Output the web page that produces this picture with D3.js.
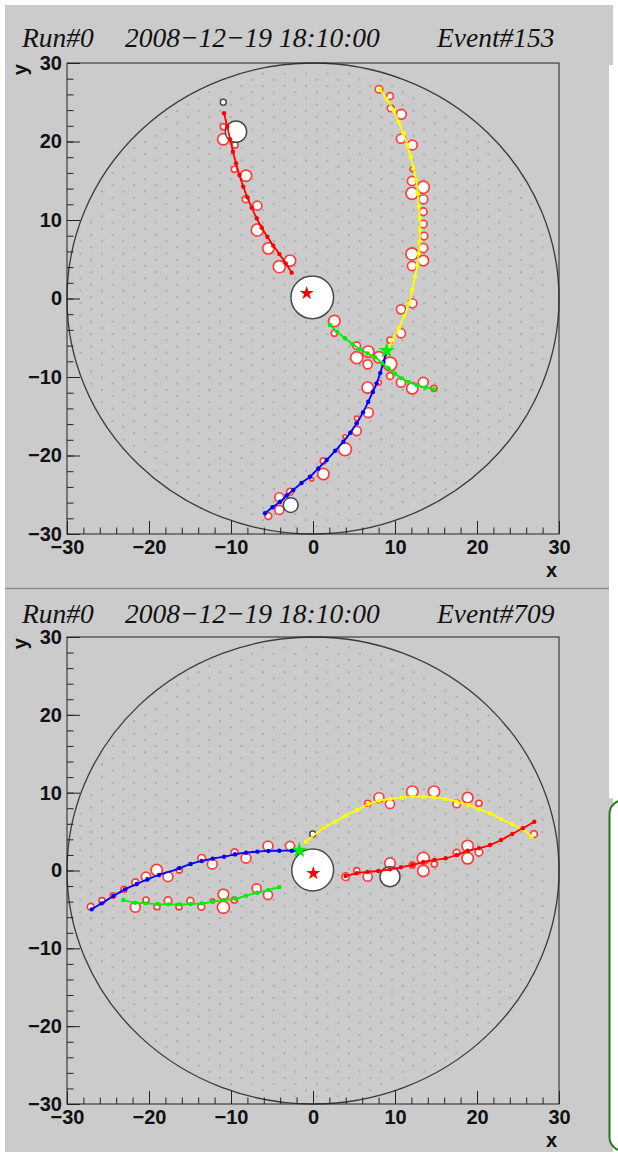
<!DOCTYPE html>
<html>
<head>
<meta charset="utf-8">
<script src="https://cdn.jsdelivr.net/npm/d3@7"></script>
<style>
  html, body { margin: 0; padding: 0; background: #ffffff; }
  svg { display: block; }
</style>
</head>
<body>
<svg id="display" width="618" height="1157"></svg>
<script>
// ---- Event display data (detector coordinates, cm) ----
const axisTicks = [-30, -20, -10, 0, 10, 20, 30];
const minorTicks = d3.range(-30, 31, 2);
const runLabel = "Run#0";
const dateLabel = "2008\u221212\u221219 18:10:00";
const eventIds = [153, 709];
const detectorRadius = 30;
// pad lattice: column pitch, row pitch, origin column
const padPitch = [1.31, 1.58];
const padOrigin = [-24.43, -1.38];

// Event #153
const redTrack153 = [[-10.85,23.59],[-10.45,21.89],[-10.12,20.28],[-9.76,18.70],[-9.39,17.22],[-8.98,15.73],[-8.50,14.24],[-8.01,12.89],[-7.48,11.57],[-6.87,10.22],[-6.26,9.02],[-5.57,7.87],[-4.84,6.73],[-4.11,5.67],[-3.33,4.48],[-2.60,3.29]];
const yellowTrack153 = [[8.17,26.65],[9.0,25.4],[9.80,24.01],[10.45,22.5],[11.02,21.04],[11.5,19.55],[11.91,18.07],[12.26,16.6],[12.56,15.10],[12.78,13.4],[12.93,11.70],[13.02,10.2],[13.05,8.73],[13.0,7.25],[12.9,5.76],[12.72,4.3],[12.45,2.8],[12.1,1.1],[11.7,-0.6],[11.15,-2.2],[10.45,-3.8],[9.7,-5.3],[8.99,-6.65]];
const blueTrack153 = [[-5.85,-27.36],[-4.95,-26.6],[-4.02,-25.89],[-3.2,-25.1],[-2.40,-24.39],[-1.4,-23.5],[-0.37,-22.70],[0.65,-21.65],[1.67,-20.57],[2.7,-19.4],[3.70,-18.24],[4.55,-17.1],[5.33,-15.90],[6.1,-14.5],[6.74,-13.15],[7.3,-11.9],[7.76,-10.81],[8.2,-9.5],[8.6,-8.1],[8.99,-6.77]];
const greenTrack153 = [[2.07,-3.38],[2.95,-4.25],[3.90,-5.07],[4.8,-5.8],[5.73,-6.47],[6.65,-7.0],[7.56,-7.49],[8.4,-8.2],[9.19,-8.89],[10.0,-9.55],[10.81,-10.17],[11.7,-10.65],[12.64,-11.02],[13.7,-11.33],[14.76,-11.57]];
// hits: x, y, charge
const hits153 = [
  [-10.94,21.89,8],[-10.94,20.28,15],[-9.51,19.55,8],[-9.59,16.46,8],[-8.17,15.64,15],[-8.21,12.64,9],
  [-6.79,11.82,12],[-6.79,8.73,16],[-5.45,6.39,15],[-4.11,4.05,16],[-2.80,4.82,15],
  [8.05,26.65,10],[9.39,25.80,9],[9.48,24.23,9],[10.77,23.46,13],[10.73,20.36,12],[12.11,19.55,13],
  [12.11,16.46,6],[12.07,14.97,12],[12.07,13.40,16],[13.45,14.17,16],[13.45,12.64,12],[13.45,11.06,10],
  [13.45,9.49,10],[13.54,7.96,10],[13.45,6.43,12],[12.07,5.67,16],[13.45,4.82,14],[12.07,4.14,12],
  [12.11,-0.61,12],[10.73,-1.38,12],[10.73,-4.43,12],[9.39,-5.29,8],
  [2.60,-2.87,15],[2.60,-4.43,8],[5.33,-6.01,10],[6.74,-6.77,15],[5.33,-7.54,16],[6.67,-8.39,12],
  [8.05,-7.49,15],[9.39,-8.34,18],[9.39,-9.87,9],[10.73,-10.72,12],[12.11,-11.44,15],[13.45,-10.68,13],[14.76,-11.44,8],
  [6.67,-11.36,15],[8.05,-10.72,6],[6.74,-14.54,13],[5.33,-16.88,12],[5.33,-15.27,6],[3.9,-17.6,5],[3.90,-19.21,17],
  [1.26,-20.70,8],[1.26,-22.36,15],[-0.16,-23.03,5],[-2.80,-24.61,9],[-4.11,-25.32,12],[-4.11,-26.94,12],[-5.45,-27.71,9]
];
// clusters: x, y, radius
const clusters153 = [[-10.94,24.99,0.37],[-9.39,21.25,1.3],[-2.72,-26.31,0.9]];
const vertex153 = [-0.09, 0.15, 2.6];
const vertexStar153 = [-0.77, 0.66];
const kinkStar153 = [8.99, -6.65];

// Event #709
const blueTrack709 = [[-26.99,-4.99],[-25.77,-4.22],[-24.35,-3.28],[-22.93,-2.42],[-21.50,-1.74],[-20.20,-1.13],[-18.78,-0.58],[-16.30,0.28],[-14.92,0.84],[-13.57,1.22],[-12.23,1.52],[-10.85,1.77],[-9.51,2.08],[-8.17,2.29],[-6.79,2.42],[-5.45,2.51],[-4.11,2.54],[-2.60,2.54],[-1.67,2.54]];
const greenTrack709 = [[-23.13,-3.79],[-21.71,-4.14],[-20.37,-4.22],[-18.98,-4.31],[-17.64,-4.35],[-16.30,-4.35],[-14.92,-4.31],[-13.57,-4.22],[-12.23,-4.01],[-10.85,-3.79],[-9.51,-3.62],[-8.17,-3.24],[-6.79,-2.85],[-5.45,-2.51],[-4.11,-2.16]];
const yellowTrack709 = [[-0.85,3.70],[1.26,5.42],[2.68,6.28],[3.98,7.05],[5.41,7.78],[6.74,8.51],[8.09,8.97],[9.39,9.19],[10.82,9.36],[12.16,9.49],[13.45,9.49],[14.76,9.41],[16.18,9.19],[17.52,8.84],[18.94,8.42],[20.24,7.87],[21.59,7.35],[22.93,6.62],[24.30,5.94],[25.57,5.30],[26.67,4.34]];
const redTrack709 = [[3.98,-0.71],[5.33,-0.36],[6.63,-0.19],[7.97,-0.06],[9.39,0.15],[10.73,0.41],[12.11,0.71],[13.45,1.09],[14.80,1.35],[16.18,1.57],[17.52,1.99],[18.86,2.54],[20.24,2.85],[21.59,3.28],[22.93,3.92],[24.30,4.69],[25.57,5.42],[26.99,6.27]];
const hits709 = [
  [-27.11,-4.65,9],[-25.73,-3.88,8],[-24.39,-3.2,7],[-23.05,-2.42,8],[-21.67,-1.52,9],[-20.37,-0.80,12],
  [-19.06,0.06,15],[-17.68,-0.80,13],[-16.30,0.06,8],[-13.57,1.57,10],[-12.28,0.80,13],[-9.55,2.34,9],
  [-8.17,1.57,13],[-5.49,3.15,13],[-2.80,3.15,12],
  [-21.67,-4.73,13],[-20.37,-3.79,8],[-19.02,-4.65,8],[-17.68,-3.88,10],[-16.34,-4.65,8],[-14.96,-3.88,9],
  [-13.62,-4.65,9],[-12.23,-3.9,5],[-10.93,-3.06,14],[-10.93,-4.73,16],[-9.59,-3.79,8],[-6.87,-2.29,12],[-5.49,-3.15,12],
  [6.67,8.64,8],[8.05,9.36,13],[9.39,8.55,12],[12.11,10.13,15],[14.76,10.13,15],[17.52,8.55,10],
  [18.86,9.36,14],[20.24,8.64,8],[26.95,4.69,9],[1.26,5.42,4],
  [3.98,-0.80,10],[5.33,-0.03,8],[6.67,-0.80,12],[9.39,0.93,14],[12.11,0.71,8],[13.45,1.57,16],
  [13.45,-0.06,15],[14.80,0.84,8],[17.52,2.29,9],[18.86,3.15,15],[18.86,1.57,15],[20.24,2.34,10]
];
const clusters709 = [[-0.04,4.69,0.37],[9.39,-0.80,1.22]];
const vertex709 = [-0.04, 0.06, 2.55];
const vertexStar709 = [0.04, -0.36];
const kinkStar709 = [-1.67, 2.6];

const trackColors = { red: "#ff0000", yellow: "#ffff00", blue: "#0000ff", green: "#00ee00" };

const events = [
  { id: eventIds[0], hits: hits153, clusters: clusters153, vertex: vertex153, vstar: vertexStar153, kstar: kinkStar153,
    tracks: [["red", redTrack153], ["yellow", yellowTrack153], ["blue", blueTrack153], ["green", greenTrack153]] },
  { id: eventIds[1], hits: hits709, clusters: clusters709, vertex: vertex709, vstar: vertexStar709, kstar: kinkStar709,
    tracks: [["blue", blueTrack709], ["green", greenTrack709], ["yellow", yellowTrack709], ["red", redTrack709]] }
];

// ---- Layout ----
const padBoxes = [{ top: 5, bottom: 588, title: 47, frameTop: 63, frameBottom: 534 },
                  { top: 589, bottom: 1152, title: 623, frameTop: 637, frameBottom: 1104 }];
const frameLeft = 67, frameRight = 559;
const padFill = "#cbcbcb";

const svg = d3.select("#display");
svg.append("rect").attr("width", 618).attr("height", 1157).attr("fill", "#ffffff");

const xScale = d3.scaleLinear().domain([-30, 30]).range([frameLeft, frameRight]);
const chargeRadius = d3.scaleLinear().domain([0, 18]).range([0, 6.8]);

// detector pad positions (hexagonal lattice inside the vessel)
const pads = [];
for (let k = -40; k <= 40; k++) {
  const x = padOrigin[0] + k * padPitch[0];
  const off = (Math.abs(k) % 2) * padPitch[1] / 2;
  for (let j = -30; j <= 30; j++) {
    const y = padOrigin[1] + j * padPitch[1] + off;
    if (x * x + y * y < 29.3 * 29.3) pads.push([x, y]);
  }
}

events.forEach((ev, i) => {
  const box = padBoxes[i];
  const g = svg.append("g");
  g.append("rect").attr("x", 5).attr("y", box.top).attr("width", 608).attr("height", box.bottom - box.top)
    .attr("fill", padFill);

  const yScale = d3.scaleLinear().domain([-30, 30]).range([box.frameBottom, box.frameTop]);

  // title
  const title = g.append("g").attr("font-family", "'Liberation Serif', 'Times New Roman', serif")
    .attr("font-style", "italic").attr("font-size", 27.5).attr("fill", "#111");
  title.append("text").attr("x", 22).attr("y", box.title).text(runLabel);
  title.append("text").attr("x", 125).attr("y", box.title).text(dateLabel);
  title.append("text").attr("x", 437).attr("y", box.title).text("Event#" + ev.id);

  // pads
  g.append("g").selectAll("rect").data(pads).join("rect")
    .attr("x", d => xScale(d[0]) - 1).attr("y", d => yScale(d[1]) - 1)
    .attr("width", 2).attr("height", 2).attr("fill", "#adadad");

  // vessel outline
  g.append("ellipse").attr("cx", xScale(0)).attr("cy", yScale(0))
    .attr("rx", xScale(detectorRadius) - xScale(0)).attr("ry", yScale(0) - yScale(detectorRadius))
    .attr("fill", "none").attr("stroke", "#3a3a3a").attr("stroke-width", 1.3);

  // hits
  g.append("g").selectAll("circle").data(ev.hits).join("circle")
    .attr("cx", d => xScale(d[0])).attr("cy", d => yScale(d[1])).attr("r", d => chargeRadius(d[2]))
    .attr("fill", "#ffffff").attr("stroke", "#ff3c3c").attr("stroke-width", 1.7);

  // clusters and vertex
  const blobs = ev.clusters.concat([ev.vertex]);
  g.append("g").selectAll("circle").data(blobs).join("circle")
    .attr("cx", d => xScale(d[0])).attr("cy", d => yScale(d[1])).attr("r", d => xScale(d[2]) - xScale(0))
    .attr("fill", "#ffffff").attr("stroke", "#4a4a4a").attr("stroke-width", 1.5);

  // tracks
  const line = d3.line().x(d => xScale(d[0])).y(d => yScale(d[1])).curve(d3.curveCatmullRom);
  ev.tracks.forEach(([name, pts]) => {
    g.append("path").attr("d", line(pts)).attr("fill", "none")
      .attr("stroke", trackColors[name]).attr("stroke-width", 1.8);
    g.append("g").selectAll("circle").data(pts).join("circle")
      .attr("cx", d => xScale(d[0])).attr("cy", d => yScale(d[1])).attr("r", 2.2)
      .attr("fill", trackColors[name]);
  });

  // stars
  const star = d3.symbol().type(d3.symbolStar);
  g.append("path").attr("d", star.size(60)())
    .attr("transform", `translate(${xScale(ev.vstar[0])},${yScale(ev.vstar[1])})`).attr("fill", "#ff0000");
  g.append("path").attr("d", star.size(80)())
    .attr("transform", `translate(${xScale(ev.kstar[0])},${yScale(ev.kstar[1])})`).attr("fill", "#00ee00");

  // frame
  g.append("rect").attr("x", frameLeft).attr("y", box.frameTop)
    .attr("width", frameRight - frameLeft).attr("height", box.frameBottom - box.frameTop)
    .attr("fill", "none").attr("stroke", "#222").attr("stroke-width", 1);

  // axes (ticks drawn inward)
  const axFont = "'Liberation Sans', Arial, sans-serif";
  const xMinor = g.append("g").attr("transform", `translate(0,${box.frameBottom})`)
    .call(d3.axisBottom(xScale).tickValues(minorTicks).tickSize(-6.5).tickFormat(""));
  const xMajor = g.append("g").attr("transform", `translate(0,${box.frameBottom})`)
    .call(d3.axisBottom(xScale).tickValues(axisTicks).tickSize(-13).tickPadding(6));
  const yMinor = g.append("g").attr("transform", `translate(${frameLeft},0)`)
    .call(d3.axisLeft(yScale).tickValues(minorTicks).tickSize(-6.5).tickFormat(""));
  const yMajor = g.append("g").attr("transform", `translate(${frameLeft},0)`)
    .call(d3.axisLeft(yScale).tickValues(axisTicks).tickSize(-13).tickPadding(5));
  [xMinor, xMajor, yMinor, yMajor].forEach(a => {
    a.select(".domain").remove();
    a.selectAll("line").attr("stroke", "#222");
    a.selectAll("text").attr("font-family", axFont).attr("font-weight", "bold")
      .attr("font-size", 20).attr("fill", "#111");
  });

  // axis titles
  g.append("text").attr("x", frameRight - 2).attr("y", box.frameBottom + 43).attr("text-anchor", "end")
    .attr("font-family", axFont).attr("font-weight", "bold").attr("font-size", 20).attr("fill", "#111").text("x");
  g.append("text").attr("transform", `translate(27,${box.frameTop + 1}) rotate(-90)`).attr("text-anchor", "end")
    .attr("font-family", axFont).attr("font-weight", "bold").attr("font-size", 20).attr("fill", "#111").text("y");
});

// pad separator
svg.append("line").attr("x1", 5).attr("x2", 613).attr("y1", 588.5).attr("y2", 588.5)
  .attr("stroke", "#8c8c8c").attr("stroke-width", 1.5);

// neighbouring windows at the right edge
svg.append("rect").attr("x", 609).attr("y", 65).attr("width", 9).attr("height", 733).attr("fill", "#ffffff");
svg.append("rect").attr("x", 609.5).attr("y", 800).attr("width", 40).attr("height", 351).attr("rx", 14)
  .attr("fill", "#ffffff").attr("stroke", "#1f7a1f").attr("stroke-width", 2);
</script>
</body>
</html>
